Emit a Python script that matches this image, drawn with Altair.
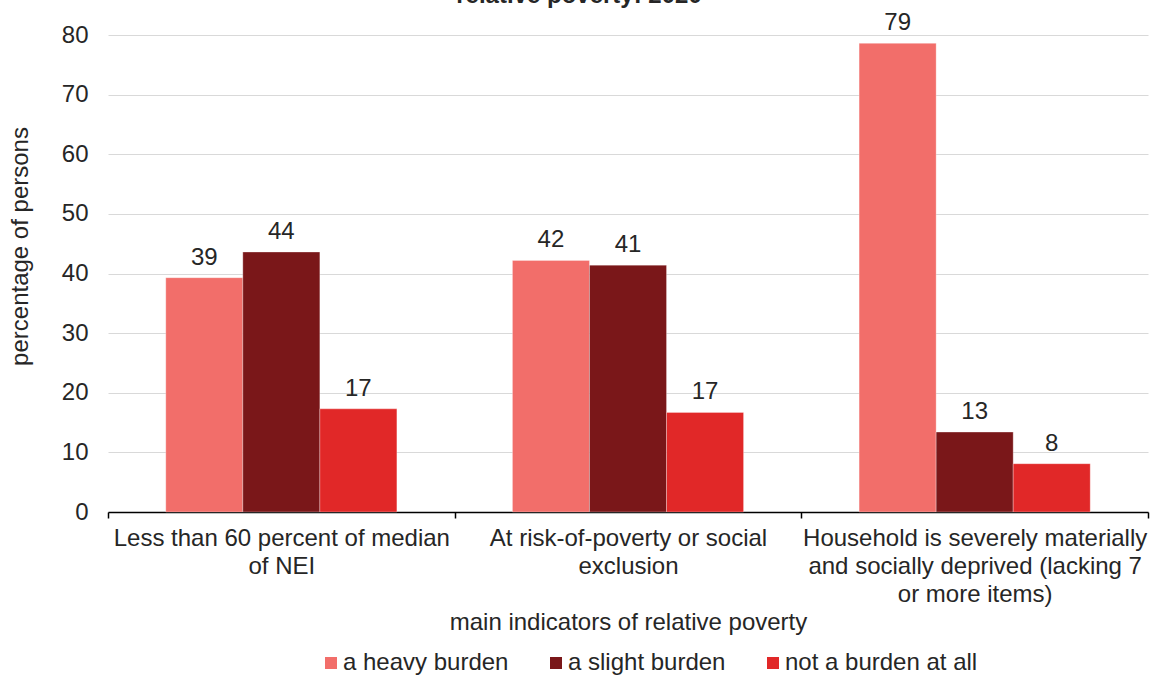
import altair as alt
import pandas as pd

# Indicator categories on the x axis
categories = [
    "Less than 60 percent of median of NEI",
    "At risk-of-poverty or social exclusion",
    "Household is severely materially and socially deprived (lacking 7 or more items)",
]
# Wrapped axis label lines for each category
category_lines = {
    categories[0]: ["Less than 60 percent of median", "of NEI"],
    categories[1]: ["At risk-of-poverty or social", "exclusion"],
    categories[2]: ["Household is severely materially",
                    "and socially deprived (lacking 7", "or more items)"],
}
series = ["a heavy burden", "a slight burden", "not a burden at all"]
colors = ["#F26E6A", "#7A1719", "#E12828"]

heavy = [39.3, 42.2, 78.6]
slight = [43.6, 41.4, 13.4]
no_burden = [17.3, 16.7, 8.1]

title_line = "relative poverty: 2020"

rows = []
for name, vals in zip(series, [heavy, slight, no_burden]):
    for cat, v in zip(categories, vals):
        rows.append({"indicator": cat, "burden": name, "pct": v})
df = pd.DataFrame(rows)

label_expr = " : ".join(
    f"datum.value == '{c}' ? {lines!r}" for c, lines in category_lines.items()
) + " : datum.label"

FONT = "Liberation Sans"
TEXT = "#262626"

x_enc = alt.X(
    "indicator:N",
    sort=categories,
    scale=alt.Scale(paddingInner=0, paddingOuter=0),
    axis=alt.Axis(
        title="main indicators of relative poverty",
        labelAngle=0,
        labelExpr=label_expr,
        labelLimit=500,
        labelLineHeight=28,
        labelPadding=8,
        labelBaseline="top",
        tickBand="extent",
        tickSize=6,
        tickColor="#000000",
        tickWidth=1.5,
        domainColor="#000000",
        domainWidth=1.5,
        titleY=117,
        titleBaseline="alphabetic",
    ),
)
xoff_enc = alt.XOffset(
    "burden:N", sort=series, scale=alt.Scale(paddingOuter=0.75, paddingInner=0)
)
y_enc = alt.Y(
    "pct:Q",
    scale=alt.Scale(domain=[0, 80], nice=False),
    axis=alt.Axis(
        title="percentage of persons",
        values=list(range(0, 81, 10)),
        domain=False,
        ticks=False,
        tickSize=0,
        labelPadding=20,
        gridColor="#D9D9D9",
        gridWidth=1,
        titleX=-88,
        titleY=211,
        titleAlign="center",
        titleBaseline="middle",
        titleAngle=-90,
    ),
)

bars = alt.Chart(df).mark_bar(stroke="#FFFFFF", strokeWidth=0.6, strokeOpacity=0.5).encode(
    x=x_enc,
    xOffset=xoff_enc,
    y=y_enc,
    color=alt.Color(
        "burden:N",
        sort=series,
        scale=alt.Scale(domain=series, range=colors),
        legend=alt.Legend(
            title=None,
            orient="none",
            legendX=211,
            legendY=616,
            direction="horizontal",
            symbolType="square",
            symbolSize=144,
            symbolStrokeWidth=0,
            labelFontSize=24,
            labelFont=FONT,
            labelColor=TEXT,
            labelLimit=400,
            labelOffset=0,
            columnPadding=35,
        ),
    ),
)

labels = alt.Chart(df).mark_text(
    baseline="alphabetic", dy=-13, fontSize=24, font=FONT, color=TEXT
).encode(
    x=alt.X("indicator:N", sort=categories),
    xOffset=alt.XOffset("burden:N", sort=series),
    y="pct:Q",
    text=alt.Text("pct:Q", format=".0f"),
)

title = alt.Chart(pd.DataFrame({"t": [title_line]})).mark_text(
    baseline="alphabetic", align="center", fontSize=24, fontWeight="bold",
    font=FONT, color=TEXT
).encode(x=alt.value(471), y=alt.value(-32), text="t:N")

chart = (
    alt.layer(bars, labels, title)
    .properties(
        width=1040,
        height=477,
        autosize=alt.AutoSizeParams(type="none"),
        padding={"left": 108, "top": 35, "right": 10, "bottom": 168},
    )
    .configure_view(stroke=None)
    .configure_axis(
        labelFont=FONT,
        labelFontSize=24,
        labelColor=TEXT,
        titleFont=FONT,
        titleFontSize=24,
        titleFontWeight="normal",
        titleColor=TEXT,
    )
)

chart.save("out.html", embed_options={"renderer": "svg", "actions": False})
